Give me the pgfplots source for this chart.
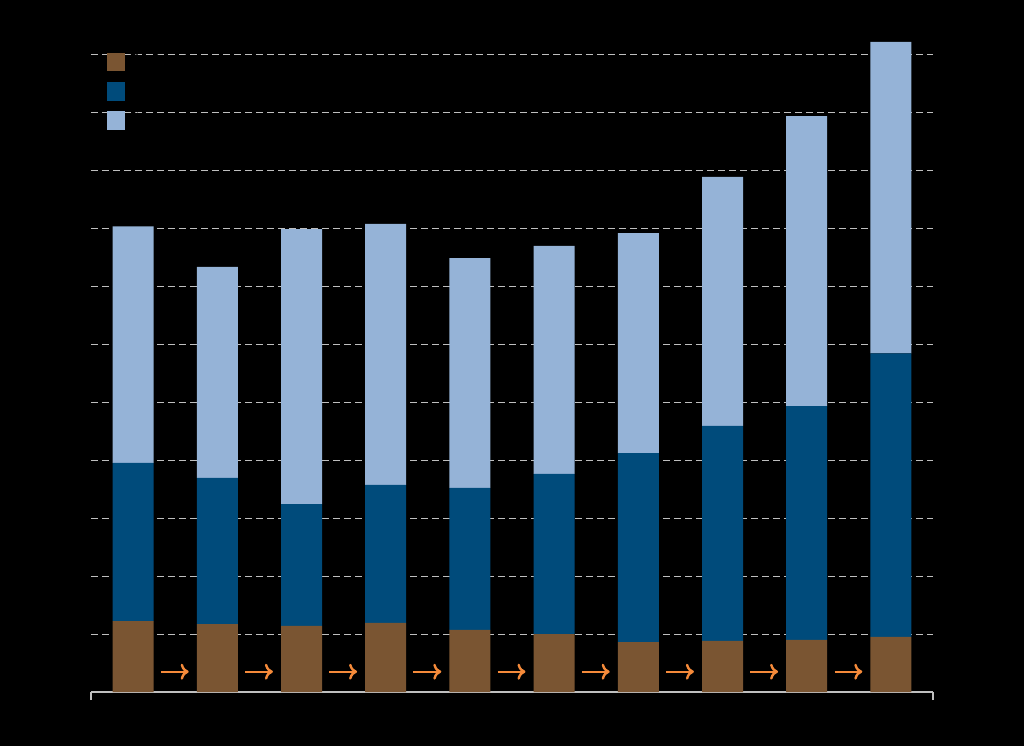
\documentclass[border=0pt]{standalone}
\usepackage{pgfplots}
\pgfplotsset{compat=1.18}
\usetikzlibrary{arrows.meta}
\definecolor{cBrown}{HTML}{7A5532}
\definecolor{cBlue}{HTML}{004B7B}
\definecolor{cLight}{HTML}{95B3D7}
\definecolor{cOrange}{HTML}{F58A3A}
\definecolor{cGrid}{HTML}{BFBFBF}
\pgfplotstableread{
x a b c
0 1.22 2.73 4.08
1 1.17 2.52 3.64
2 1.14 2.10 4.74
3 1.19 2.38 4.50
4 1.07 2.45 3.96
5 1.00 2.76 3.93
6 0.86 3.26 3.79
7 0.88 3.71 4.29
8 0.90 4.03 5.00
9 0.95 4.89 5.37
}\datatable
\begin{document}
\begin{tikzpicture}
\fill[black] (0,0) rectangle (512pt,373pt);
\useasboundingbox (0,0) rectangle (512pt,373pt);
\begin{axis}[
  at={(45.5pt,27pt)}, anchor=south west,
  scale only axis, width=421pt, height=327.7pt,
  xmin=-0.5, xmax=9.5, ymin=0, ymax=11.3,
  axis x line*=bottom, axis y line*=left,
  y axis line style={draw=none},
  x axis line style={cGrid, line width=0.8pt, -},
  xtick={-0.5,9.5}, xticklabels={}, tick align=outside,
  major tick length=4pt, x tick style={cGrid, line width=0.6pt},
  ytick={1,2,...,11}, yticklabels={}, y tick style={draw=none},
  ymajorgrids, grid style={cGrid, line width=0.5pt, dash pattern=on 3.5pt off 2pt},
  ybar stacked, bar width=20.5pt,
  legend style={at={(rel axis cs:0.018,0.98)}, anchor=north west, draw=none, fill=none,
    text=black, font=\small, inner sep=0pt, row sep=2.8pt},
  legend cell align=left,
  legend image code/.code={\fill[#1] (0pt,-4.7pt) rectangle (9.3pt,4.7pt);},
]
\addplot[draw=none, fill=cBrown] table[x=x, y=a] {\datatable};
\addlegendentry{Series 1}
\addplot[draw=none, fill=cBlue] table[x=x, y=b] {\datatable};
\addlegendentry{Series 2}
\addplot[draw=none, fill=cLight] table[x=x, y=c] {\datatable};
\addlegendentry{Series 3}
\end{axis}
\begin{axis}[
  at={(45.5pt,27pt)}, anchor=south west,
  scale only axis, width=421pt, height=327.7pt,
  xmin=-0.5, xmax=9.5, ymin=0, ymax=11.3,
  axis lines=none,
]
\addplot[cOrange, line width=1.2pt, -{To[length=4pt,width=8pt]},
  quiver={u=\thisrow{u}, v=\thisrow{v}}] table {
x y u v
0.33 0.35 0.33 0
1.33 0.35 0.33 0
2.33 0.35 0.33 0
3.33 0.35 0.33 0
4.33 0.35 0.33 0
5.33 0.35 0.33 0
6.33 0.35 0.33 0
7.33 0.35 0.33 0
8.33 0.35 0.33 0
};
\end{axis}
\end{tikzpicture}
\end{document}
